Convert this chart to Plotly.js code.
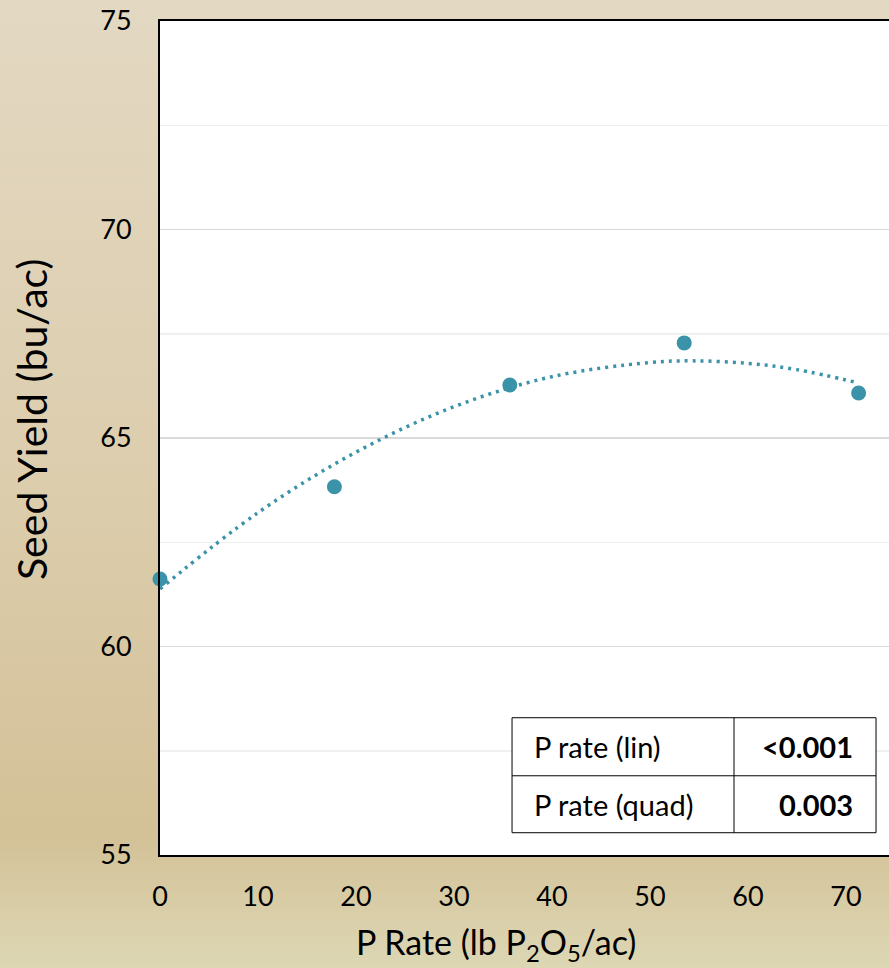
<!DOCTYPE html>
<html>
<head>
<meta charset="utf-8">
<script src="https://cdn.plot.ly/plotly-3.0.1.min.js"></script>
<style>
html,body{margin:0;padding:0;}
body{width:889px;height:968px;background:linear-gradient(to bottom,#e3d8c2 0%,#dccdad 50%,#d3c197 86%,#ddd7b4 100%);}
#chart{width:889px;height:968px;}
</style>
</head>
<body>
<div id="chart"></div>
<script>
// Observed data
const pRate = [0, 17.8, 35.7, 53.5, 71.3];
const seedYield = [61.62, 63.83, 66.27, 67.28, 66.08];
// Trendline (quadratic)
const trendX = [0, 10, 20, 30, 40, 50, 54.4, 60, 65, 71.3];
const trendY = [61.38, 63.21, 64.66, 65.75, 66.47, 66.81, 66.85, 66.79, 66.64, 66.32];
// Statistics table
const tableLabels = ["P rate (lin)", "P rate (quad)"];
const tableValues = ["<0.001", "0.003"];
const yTicks = [55, 60, 65, 70, 75];
const xTicks = [0, 10, 20, 30, 40, 50, 60, 70];

const teal = "#3a93a8";
const font = "Lato, 'Liberation Sans', sans-serif";

const traces = [
  {x: trendX, y: trendY, type: "scatter", mode: "lines",
   line: {color: teal, width: 3.5, dash: "3px,5px", shape: "spline"},
   hoverinfo: "skip", showlegend: false, cliponaxis: false},
  {x: pRate, y: seedYield, type: "scatter", mode: "markers",
   marker: {color: teal, size: 15}, showlegend: false, cliponaxis: false}
];

// table geometry in paper coords
const tx0 = 0.4829, tx1 = 0.7874, tx2 = 0.9822;
const ty0 = 0.1646, ty1 = 0.0950, ty2 = 0.0267;
const shapes = [
  {type: "rect", xref: "paper", yref: "paper", x0: tx0, x1: tx2, y0: ty2, y1: ty0,
   fillcolor: "white", line: {color: "black", width: 1}},
  {type: "line", xref: "paper", yref: "paper", x0: tx0, x1: tx2, y0: ty1, y1: ty1,
   line: {color: "black", width: 1}},
  {type: "line", xref: "paper", yref: "paper", x0: tx1, x1: tx1, y0: ty2, y1: ty0,
   line: {color: "black", width: 1}}
];
const rowY = [(ty0 + ty1) / 2, (ty1 + ty2) / 2];
const annotations = [];
tableLabels.forEach((t, i) => {
  annotations.push({xref: "paper", yref: "paper", x: tx0 + 0.027, y: rowY[i],
    xanchor: "left", yanchor: "middle", text: t, showarrow: false,
    font: {family: font, size: 29, color: "black"}});
  annotations.push({xref: "paper", yref: "paper", x: tx2 - 0.029, y: rowY[i],
    xanchor: "right", yanchor: "middle", text: "<b>" + tableValues[i].replace("<", "&lt;") + "</b>", showarrow: false,
    font: {family: font, size: 29, color: "black"}});
});
annotations.push({xref: "paper", yref: "paper", x: (496 - 160) / 729, y: -(944 - 855) / 834,
  xanchor: "center", yanchor: "middle", showarrow: false,
  text: "P Rate (lb P<sub>2</sub>O<sub>5</sub>/ac)", font: {family: font, size: 34, color: "black"}});
annotations.push({xref: "paper", yref: "paper", x: -(160 - 31) / 729, y: (855 - 420) / 834,
  xanchor: "center", yanchor: "middle", showarrow: false, textangle: -90,
  text: "Seed Yield (bu/ac)", font: {family: font, size: 41, color: "black"}});

const layout = {
  width: 889, height: 968,
  margin: {l: 160, r: 0, t: 21, b: 113},
  paper_bgcolor: "rgba(0,0,0,0)",
  plot_bgcolor: "white",
  showlegend: false,
  font: {family: font, color: "black"},
  xaxis: {range: [0, 74.4], tickvals: xTicks, showgrid: false, zeroline: false,
    showline: true, linecolor: "black", linewidth: 2, mirror: true,
    ticks: "", tickfont: {family: font, size: 27, color: "black"}, ticklabelstandoff: 17},
  yaxis: {range: [55, 75], tickvals: yTicks, showgrid: true, gridcolor: "#d9d9d9", gridwidth: 1.5,
    zeroline: false, showline: true, linecolor: "black", linewidth: 2,
    minor: {dtick: 2.5, showgrid: true, gridcolor: "#f0f0f0", gridwidth: 1.5},
    ticks: "", tickfont: {family: font, size: 27, color: "black"}, ticklabelstandoff: 21},
  shapes: shapes,
  annotations: annotations
};

Plotly.newPlot("chart", traces, layout, {displayModeBar: false, staticPlot: true});
</script>
</body>
</html>
